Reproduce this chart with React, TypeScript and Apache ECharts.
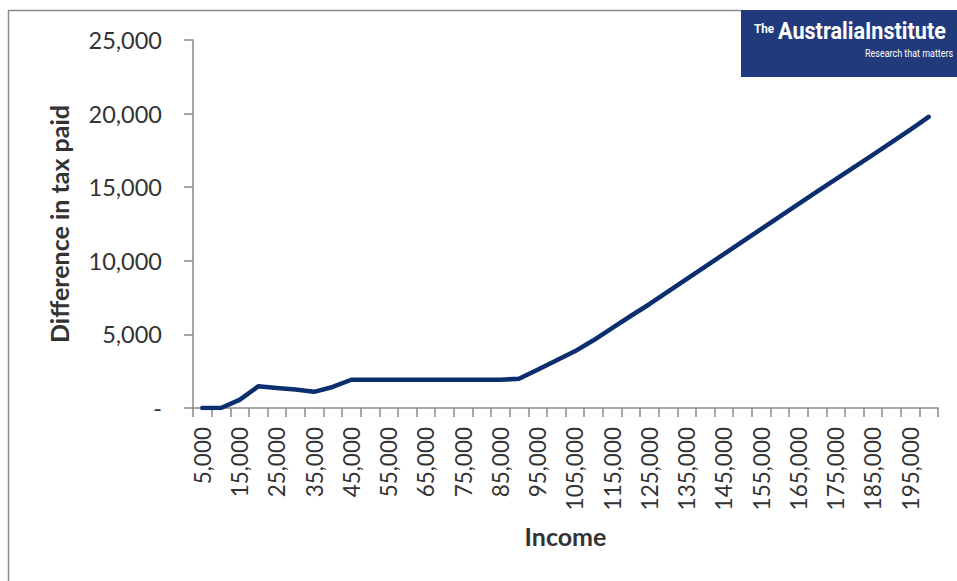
import React, { useEffect, useRef } from "react";
import * as echarts from "echarts";

const incomes = [
  5000, 10000, 15000, 20000, 25000, 30000, 35000, 40000, 45000, 50000,
  55000, 60000, 65000, 70000, 75000, 80000, 85000, 90000, 95000, 100000,
  105000, 110000, 115000, 120000, 125000, 130000, 135000, 140000, 145000, 150000,
  155000, 160000, 165000, 170000, 175000, 180000, 185000, 190000, 195000, 200000,
];

const taxDifference = [
  0, 0, 550, 1470, 1360, 1250, 1100, 1430, 1920, 1920,
  1920, 1920, 1920, 1920, 1920, 1920, 1920, 1980, 2600, 3220,
  3850, 4600, 5430, 6250, 7050, 7900, 8750, 9600, 10450, 11300,
  12150, 13000, 13850, 14700, 15530, 16370, 17200, 18050, 18900, 19780,
];

const yTicks = [0, 5000, 10000, 15000, 20000, 25000];

const fmt = (v: number) => (v === 0 ? "-" : v.toLocaleString("en-US"));

const FONT = "Lato, 'Open Sans', sans-serif";
const AXIS_GRAY = "#8a8a8a";
const TEXT = "#333333";
const NAVY = "#0a2e6e";

export default function App() {
  const ref = useRef<HTMLDivElement>(null);

  useEffect(() => {
    if (!ref.current) return;
    const chart = echarts.init(ref.current, undefined, { renderer: "svg" });
    chart.setOption({
      animation: false,
      backgroundColor: "#ffffff",
      textStyle: { fontFamily: FONT },
      grid: { left: 193, right: 19, top: 40, bottom: 173, containLabel: false },
      xAxis: {
        type: "category",
        data: incomes.map(fmt),
        boundaryGap: true,
        name: "Income",
        nameLocation: "middle",
        nameGap: 115,
        nameTextStyle: { fontFamily: FONT, fontSize: 25, fontWeight: "bold", color: TEXT },
        axisLine: { show: true, lineStyle: { color: AXIS_GRAY, width: 1.5 } },
        axisTick: { show: true, interval: 0, length: 9, lineStyle: { color: AXIS_GRAY, width: 1.5 } },
        axisLabel: {
          interval: 1,
          rotate: 90,
          margin: 19,
          fontFamily: FONT,
          fontSize: 22.5,
          color: TEXT,
        },
        splitLine: { show: false },
      },
      yAxis: {
        type: "value",
        min: yTicks[0],
        max: yTicks[yTicks.length - 1],
        interval: 5000,
        name: "Difference in tax paid",
        nameLocation: "middle",
        nameGap: 122,
        nameTextStyle: { fontFamily: FONT, fontSize: 25, fontWeight: "bold", color: TEXT },
        axisLine: { show: true, lineStyle: { color: AXIS_GRAY, width: 1.5 } },
        axisTick: { show: true, length: 9, lineStyle: { color: AXIS_GRAY, width: 1.5 } },
        axisLabel: {
          margin: 31,
          fontFamily: FONT,
          fontSize: 23.5,
          color: TEXT,
          formatter: (v: number) => fmt(v),
        },
        splitLine: { show: false },
      },
      series: [
        {
          type: "line",
          data: taxDifference,
          showSymbol: false,
          symbol: "none",
          lineStyle: { color: NAVY, width: 4.5, cap: "round", join: "round" },
          z: 5,
        },
      ],
      graphic: [
        {
          type: "polyline",
          silent: true,
          shape: { points: [[8.5, 581], [8.5, 10.5], [742, 10.5]] },
          style: { stroke: AXIS_GRAY, lineWidth: 1.5, fill: "none" },
        },
        {
          type: "group",
          left: 741,
          top: 10,
          children: [
            {
              type: "rect",
              shape: { x: 0, y: 0, width: 216, height: 67 },
              style: { fill: "#213a7c" },
            },
            {
              type: "text",
              x: 13,
              y: 19,
              style: {
                text: "The",
                fill: "#ffffff",
                font: "bold 13px Roboto, sans-serif",
                textVerticalAlign: "middle",
              },
              scaleX: 0.9,
            },
            {
              type: "text",
              x: 37,
              y: 21,
              style: {
                text: "AustraliaInstitute",
                fill: "#ffffff",
                font: "bold 24px Roboto, sans-serif",
                textVerticalAlign: "middle",
              },
              scaleX: 0.9,
            },
            {
              type: "text",
              x: 124,
              y: 43.5,
              style: {
                text: "Research that matters",
                fill: "#ffffff",
                font: "11.5px Roboto, sans-serif",
                textVerticalAlign: "middle",
              },
              scaleX: 0.78,
            },
          ],
        },
      ],
    });
    return () => chart.dispose();
  }, []);

  return (
    <div
      ref={ref}
      style={{ position: "fixed", left: 0, top: 0, width: 957, height: 581, overflow: "hidden" }}
    />
  );
}
